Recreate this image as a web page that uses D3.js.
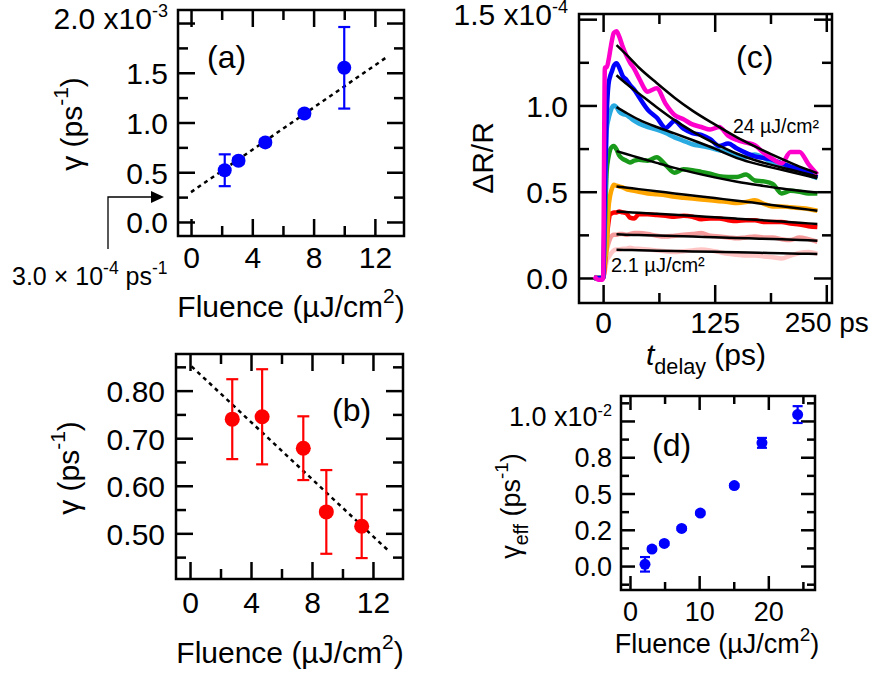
<!DOCTYPE html>
<html>
<head>
<meta charset="utf-8">
<script src="https://cdn.jsdelivr.net/npm/d3@7"></script>
<style>
  body { margin: 0; background: #fff; }
  text { font-family: "Liberation Sans", Arial, Helvetica, sans-serif; fill: #000; }
</style>
</head>
<body>
<div id="fig"></div>
<script>
// ---- panel (a): gamma vs fluence ----
var fluenceA = [2.2, 3.1, 4.85, 7.4, 10.0];
var gammaA = [0.52, 0.615, 0.80, 1.09, 1.55];
var errA = [0.16, 0.03, 0.03, 0.03, 0.41];
var fitAx = [0, 12.8];
var fitAy = [0.30, 1.66];

// ---- panel (b) ----
var fluenceB = [2.77, 4.73, 7.43, 8.94, 11.26];
var gammaB = [0.74, 0.745, 0.679, 0.545, 0.515];
var errB = [0.084, 0.10, 0.067, 0.088, 0.067];
var fitBx = [0.1, 13.1];
var fitBy = [0.851, 0.461];

// ---- panel (c): dR/R traces (x1e-4) ----
var tData = [-10, -5, -1, 0, 2, 4, 6, 8, 10, 12, 15, 18, 22, 26, 30, 35, 40, 50, 60, 70, 80, 90, 100, 110, 120, 130, 140, 150, 160, 170, 180, 190, 200, 210, 220, 230, 240];
var trace24 = [0.01, -0.01, -0.01, 0, 1.22, 1.22, 1.26, 1.32, 1.38, 1.42, 1.43, 1.40, 1.34, 1.29, 1.25, 1.21, 1.16, 1.08, 1.10, 1.01, 0.945, 0.92, 0.89, 0.875, 0.86, 0.875, 0.825, 0.80, 0.785, 0.77, 0.725, 0.69, 0.665, 0.73, 0.73, 0.66, 0.60];
var traceBlue = [0, 0, 0, 0, 0.5, 0.94, 1.12, 1.17, 1.20, 1.23, 1.245, 1.22, 1.17, 1.15, 1.12, 1.09, 1.05, 0.975, 0.93, 0.87, 0.91, 0.865, 0.84, 0.83, 0.805, 0.765, 0.78, 0.75, 0.725, 0.705, 0.695, 0.685, 0.665, 0.645, 0.63, 0.61, 0.585];
var traceSky = [0, 0, 0, 0, 0.4, 0.86, 0.92, 0.96, 0.99, 1.0, 0.99, 0.965, 0.95, 0.945, 0.93, 0.91, 0.895, 0.875, 0.86, 0.84, 0.815, 0.795, 0.775, 0.765, 0.755, 0.74, 0.73, 0.71, 0.70, 0.715, 0.695, 0.665, 0.655, 0.64, 0.625, 0.60, 0.578];
var traceGreen = [0, 0, 0, 0, 0.3, 0.62, 0.70, 0.745, 0.76, 0.765, 0.745, 0.71, 0.69, 0.68, 0.67, 0.68, 0.685, 0.68, 0.70, 0.655, 0.61, 0.63, 0.625, 0.615, 0.605, 0.59, 0.585, 0.585, 0.60, 0.565, 0.56, 0.545, 0.49, 0.505, 0.50, 0.49, 0.49];
var traceOrange = [0, 0, 0, 0, 0.1, 0.18, 0.40, 0.48, 0.52, 0.54, 0.535, 0.53, 0.525, 0.515, 0.51, 0.505, 0.50, 0.49, 0.485, 0.48, 0.47, 0.465, 0.46, 0.455, 0.45, 0.445, 0.44, 0.435, 0.44, 0.45, 0.43, 0.415, 0.415, 0.41, 0.405, 0.40, 0.39];
var traceRed = [0, 0, 0, 0, 0.08, 0.22, 0.32, 0.37, 0.375, 0.38, 0.38, 0.385, 0.38, 0.375, 0.35, 0.345, 0.37, 0.37, 0.365, 0.36, 0.355, 0.36, 0.355, 0.34, 0.345, 0.345, 0.335, 0.33, 0.335, 0.335, 0.325, 0.325, 0.325, 0.315, 0.31, 0.30, 0.295];
var traceSalmon = [0, 0, 0, 0, 0.06, 0.16, 0.20, 0.23, 0.245, 0.25, 0.25, 0.255, 0.255, 0.25, 0.255, 0.26, 0.26, 0.255, 0.245, 0.24, 0.245, 0.25, 0.255, 0.26, 0.245, 0.24, 0.235, 0.23, 0.235, 0.24, 0.235, 0.235, 0.225, 0.22, 0.235, 0.225, 0.21];
var trace21 = [0, 0, 0, 0, 0.04, 0.10, 0.12, 0.135, 0.15, 0.16, 0.165, 0.165, 0.17, 0.17, 0.175, 0.17, 0.17, 0.165, 0.16, 0.155, 0.15, 0.155, 0.16, 0.165, 0.16, 0.15, 0.14, 0.135, 0.13, 0.13, 0.125, 0.12, 0.113, 0.13, 0.145, 0.15, 0.14];
var traceColors = ["#ffc4c4", "#f59a9a", "#ff0000", "#ffa500", "#1a9a1a", "#29abe2", "#0000ff", "#ff00cc"];

var tFit = [15, 25, 40, 60, 80, 100, 125, 150, 175, 200, 220, 240];
var fit24 = [1.35, 1.30, 1.22, 1.13, 1.045, 0.97, 0.89, 0.815, 0.75, 0.69, 0.645, 0.607];
var fitBlue = [1.175, 1.13, 1.07, 0.99, 0.915, 0.85, 0.78, 0.72, 0.675, 0.64, 0.615, 0.588];
var fitSky = [0.99, 0.96, 0.918, 0.875, 0.838, 0.80, 0.75, 0.695, 0.657, 0.627, 0.603, 0.578];
var fitGreen = [0.735, 0.72, 0.697, 0.667, 0.638, 0.612, 0.583, 0.558, 0.537, 0.518, 0.505, 0.495];
var fitOrange = [0.53, 0.524, 0.515, 0.503, 0.49, 0.478, 0.463, 0.448, 0.432, 0.416, 0.403, 0.39];
var fitRed = [0.385, 0.382, 0.378, 0.372, 0.366, 0.36, 0.352, 0.344, 0.336, 0.327, 0.32, 0.313];
var fitSalmon = [0.253, 0.251, 0.249, 0.246, 0.243, 0.24, 0.236, 0.232, 0.228, 0.224, 0.22, 0.216];
var fit21 = [0.163, 0.162, 0.161, 0.158, 0.156, 0.154, 0.152, 0.149, 0.146, 0.143, 0.141, 0.139];

// ---- panel (d): gamma_eff vs fluence (x1e-2) ----
var fluenceD = [2.17, 3.18, 4.96, 7.47, 10.17, 15.08, 19.08, 24.24];
var gammaD = [0.012, 0.117, 0.156, 0.259, 0.365, 0.555, 0.849, 1.044];
var errD = [0.05, 0.01, 0.01, 0.01, 0.01, 0.01, 0.034, 0.058];

var svg = d3.select("#fig")
  .append("svg")
  .attr("width", 870)
  .attr("height", 675);

// text with super/subscripts: parts = [[str, "sup"|"sub"|"exp"|"it"|undefined], ...]
function richText(sel, parts, size) {
  var shift = 0;
  parts.forEach(function(p) {
    var target = 0, fs = size;
    if (p[1] === "sup") { target = -0.46 * size; fs = 0.7 * size; }
    if (p[1] === "exp") { target = -0.4 * size; fs = 0.6 * size; }
    if (p[1] === "sub") { target = 0.3 * size; fs = 0.72 * size; }
    var t = sel.append("tspan").text(p[0])
      .attr("font-size", fs)
      .attr("dy", target - shift);
    if (p[1] === "it") t.attr("font-style", "italic");
    shift = target;
  });
  return sel;
}

function makePanel(p) {
  var x = d3.scaleLinear().domain(p.xDomain).range([p.left, p.right]);
  var y = d3.scaleLinear().domain(p.yDomain).range([p.bottom, p.top]);
  var g = svg.append("g");

  function addAxis(axis, tx, ty) {
    var a = g.append("g")
      .attr("transform", `translate(${tx}, ${ty})`)
      .call(axis);
    a.select(".domain").remove();
    a.selectAll("line").attr("stroke-width", 2.5);
    a.attr("font-size", p.font).attr("font-family", "Liberation Sans, Arial, sans-serif");
    return a;
  }

  var bottom = addAxis(d3.axisBottom(x).tickValues(p.xMajor).tickSize(-p.major).tickPadding(p.xPad).tickFormat(p.xFmt), 0, p.bottom);
  addAxis(d3.axisBottom(x).tickValues(p.xMinor).tickSize(-p.minor).tickFormat(""), 0, p.bottom);
  addAxis(d3.axisTop(x).tickValues(p.xMajor).tickSize(-p.major).tickFormat(""), 0, p.top);
  addAxis(d3.axisTop(x).tickValues(p.xMinor).tickSize(-p.minor).tickFormat(""), 0, p.top);
  var left = addAxis(d3.axisLeft(y).tickValues(p.yMajor).tickSize(-p.major).tickPadding(p.yPad).tickFormat(p.yFmt), p.left, 0);
  addAxis(d3.axisLeft(y).tickValues(p.yMinor).tickSize(-p.minor).tickFormat(""), p.left, 0);
  addAxis(d3.axisRight(y).tickValues(p.yMajor).tickSize(-p.major).tickFormat(""), p.right, 0);
  addAxis(d3.axisRight(y).tickValues(p.yMinor).tickSize(-p.minor).tickFormat(""), p.right, 0);
  left.selectAll("text").attr("dy", "0.36em");

  // exponent on the top tick label
  if (p.expo) {
    left.selectAll(".tick text")
      .filter(function(d) { return d === p.expoAt; })
      .each(function() {
        var t = d3.select(this);
        var base = t.text();
        t.text("").attr("y", 5);
        richText(t, [[base + " x10"], [p.expo, "exp"]], p.font);
      });
  }

  g.append("rect")
    .attr("x", p.left).attr("y", p.top)
    .attr("width", p.right - p.left).attr("height", p.bottom - p.top)
    .attr("fill", "none").attr("stroke", "#000").attr("stroke-width", 2.5);

  return { x: x, y: y, g: g, bottomAxis: bottom };
}

function scatter(pan, xs, ys, errs, color, r, cap) {
  var pts = xs.map(function(v, i) { return { x: v, y: ys[i], e: errs[i] }; });
  var eg = pan.g.selectAll(".err").data(pts).enter().append("g")
    .attr("stroke", color).attr("stroke-width", 2.2);
  eg.append("line")
    .attr("x1", d => pan.x(d.x)).attr("x2", d => pan.x(d.x))
    .attr("y1", d => pan.y(d.y - d.e)).attr("y2", d => pan.y(d.y + d.e));
  eg.append("line")
    .attr("x1", d => pan.x(d.x) - cap).attr("x2", d => pan.x(d.x) + cap)
    .attr("y1", d => pan.y(d.y + d.e)).attr("y2", d => pan.y(d.y + d.e));
  eg.append("line")
    .attr("x1", d => pan.x(d.x) - cap).attr("x2", d => pan.x(d.x) + cap)
    .attr("y1", d => pan.y(d.y - d.e)).attr("y2", d => pan.y(d.y - d.e));
  pan.g.selectAll(".pt").data(pts).enter().append("circle")
    .attr("cx", d => pan.x(d.x))
    .attr("cy", d => pan.y(d.y))
    .attr("r", r)
    .attr("fill", color);
}

function dashed(pan, xs, ys) {
  pan.g.append("path")
    .attr("d", d3.line().x(d => pan.x(d[0])).y(d => pan.y(d[1]))(xs.map((v, i) => [v, ys[i]])))
    .attr("fill", "none").attr("stroke", "#000")
    .attr("stroke-width", 2.5).attr("stroke-dasharray", "4,4");
}

var fmt1 = d3.format(".1f");
var F = 30;

// ---------- (a) ----------
var panA = makePanel({
  left: 178, right: 404, top: 10, bottom: 236,
  xDomain: [-0.85, 13.9], yDomain: [-0.141, 2.131],
  xMajor: [0, 4, 8, 12], xMinor: [2, 6, 10],
  yMajor: [0, 0.5, 1.0, 1.5, 2.0], yMinor: [0.25, 0.75, 1.25, 1.75],
  xFmt: d3.format("d"), yFmt: fmt1, expo: "-3", expoAt: 2.0,
  major: 17, minor: 10, xPad: 11, yPad: 10, font: F
});
dashed(panA, fitAx, fitAy);
scatter(panA, fluenceA, gammaA, errA, "#0000ff", 7, 6);

svg.append("text").attr("x", 207).attr("y", 68).attr("font-size", 32).text("(a)");
richText(svg.append("text").attr("x", 291).attr("y", 317).attr("text-anchor", "middle"),
  [["Fluence (µJ/cm"], ["2", "sup"], [")"]], F);
richText(svg.append("text").attr("transform", "translate(82,124) rotate(-90)").attr("text-anchor", "middle"),
  [["γ (ps"], ["-1", "sup"], [")"]], F);

// annotation arrow for the intercept
svg.append("path")
  .attr("d", "M108,249 V197 H153")
  .attr("fill", "none").attr("stroke", "#000").attr("stroke-width", 1.3);
svg.append("path")
  .attr("d", "M151,191 L164,197 L151,203 Z")
  .attr("fill", "#000");
richText(svg.append("text").attr("x", 12).attr("y", 285),
  [["3.0 × 10"], ["-4", "sup"], [" ps"], ["-1", "sup"]], 25);

// ---------- (b) ----------
var panB = makePanel({
  left: 176, right: 403, top: 354, bottom: 579,
  xDomain: [-0.92, 13.97], yDomain: [0.404, 0.877],
  xMajor: [0, 4, 8, 12], xMinor: [2, 6, 10],
  yMajor: [0.5, 0.6, 0.7, 0.8], yMinor: [0.45, 0.55, 0.65, 0.75, 0.85],
  xFmt: d3.format("d"), yFmt: d3.format(".2f"),
  major: 17, minor: 10, xPad: 13, yPad: 11, font: F
});
dashed(panB, fitBx, fitBy);
scatter(panB, fluenceB, gammaB, errB, "#ff0000", 7.5, 6);

svg.append("text").attr("x", 332).attr("y", 421).attr("font-size", 32).text("(b)");
richText(svg.append("text").attr("x", 290).attr("y", 663).attr("text-anchor", "middle"),
  [["Fluence (µJ/cm"], ["2", "sup"], [")"]], F);
richText(svg.append("text").attr("transform", "translate(79,468) rotate(-90)").attr("text-anchor", "middle"),
  [["γ (ps"], ["-1", "sup"], [")"]], F);

// ---------- (c) ----------
var panC = makePanel({
  left: 579, right: 832, top: 14, bottom: 303,
  xDomain: [-27, 256.4], yDomain: [-0.145, 1.53],
  xMajor: [0, 125, 250], xMinor: [62.5, 187.5],
  yMajor: [0, 0.5, 1.0, 1.5], yMinor: [0.25, 0.75, 1.25],
  xFmt: function(d) { return d === 250 ? "250 ps" : d; }, yFmt: fmt1, expo: "-4", expoAt: 1.5,
  major: 18, minor: 10, xPad: 9, yPad: 11, font: F
});
// last label carries the unit; keep it inside the page
panC.bottomAxis.selectAll(".tick text")
  .filter(d => d === 250)
  .attr("font-size", 28);

var traces = [trace21, traceSalmon, traceRed, traceOrange, traceGreen, traceSky, traceBlue, trace24];
var fits = [fit21, fitSalmon, fitRed, fitOrange, fitGreen, fitSky, fitBlue, fit24];

var traceLine = d3.line()
  .x(d => panC.x(d[0]))
  .y(d => panC.y(d[1]))
  .curve(d3.curveMonotoneX);

panC.g.selectAll(".trace")
  .data(traces)
  .enter()
  .append("path")
  .attr("d", vals => traceLine(tData.map((t, i) => [t, vals[i]])))
  .attr("fill", "none")
  .attr("stroke", (d, i) => traceColors[i])
  .attr("stroke-width", 4.5)
  .attr("stroke-linejoin", "round");

panC.g.selectAll(".fit")
  .data(fits)
  .enter()
  .append("path")
  .attr("d", vals => traceLine(tFit.map((t, i) => [t, vals[i]])))
  .attr("fill", "none")
  .attr("stroke", "#000")
  .attr("stroke-width", 2.5);

svg.append("text").attr("x", 736).attr("y", 68).attr("font-size", 32).text("(c)");
svg.append("text").attr("x", 733).attr("y", 133).attr("font-size", 19.5).text("24 µJ/cm²");
svg.append("text").attr("x", 611).attr("y", 272).attr("font-size", 20).text("2.1 µJ/cm²");
richText(svg.append("text").attr("x", 706).attr("y", 365).attr("text-anchor", "middle"),
  [["t", "it"], ["delay", "sub"], [" (ps)"]], F);
svg.append("text").attr("transform", "translate(493,158) rotate(-90)")
  .attr("text-anchor", "middle").attr("font-size", F).text("ΔR/R");

// ---------- (d) ----------
var labelsD = { 0: "0.0", 0.25: "0.2", 0.5: "0.5", 0.75: "0.8", 1: "1.0" };
var panD = makePanel({
  left: 621, right: 815, top: 396, bottom: 590,
  xDomain: [-1.3, 26.75], yDomain: [-0.165, 1.172],
  xMajor: [0, 10, 20], xMinor: [5, 15, 25],
  yMajor: [0, 0.25, 0.5, 0.75, 1.0], yMinor: [-0.125, 0.125, 0.375, 0.625, 0.875, 1.125],
  xFmt: d3.format("d"), yFmt: d => labelsD[d], expo: "-2", expoAt: 1.0,
  major: 14, minor: 8, xPad: 12, yPad: 9, font: 27
});
scatter(panD, fluenceD, gammaD, errD, "#0000ff", 5.5, 5);

svg.append("text").attr("x", 652).attr("y", 456).attr("font-size", 32).text("(d)");
richText(svg.append("text").attr("x", 717).attr("y", 653).attr("text-anchor", "middle"),
  [["Fluence (µJ/cm"], ["2", "sup"], [")"]], 27);
richText(svg.append("text").attr("transform", "translate(520,506) rotate(-90)").attr("text-anchor", "middle"),
  [["γ"], ["eff", "sub"], [" (ps"], ["-1", "sup"], [")"]], 27);
</script>
</body>
</html>
